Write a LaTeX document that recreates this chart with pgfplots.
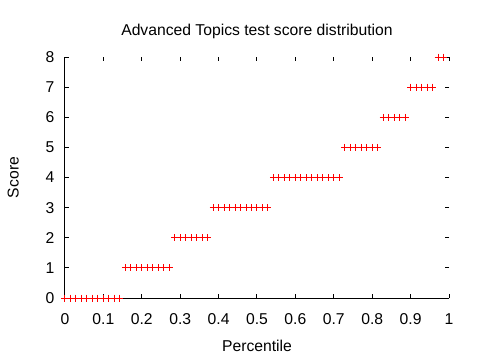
\documentclass[border=0pt]{standalone}
\usepackage{fontspec}
\setmainfont{Liberation Sans}
\usepackage{pgfplots}
\pgfplotsset{compat=1.18}
\begin{document}
\begin{tikzpicture}
\begin{axis}[
  name=ax,
  scale only axis,
  width=384pt, height=241pt,
  xmin=0, xmax=1, ymin=0, ymax=8,
  xtick={0,0.1,...,1.01},
  ytick={0,1,...,8},
  xticklabels={0,0.1,0.2,0.3,0.4,0.5,0.6,0.7,0.8,0.9,1},
  font=\fontsize{15.7}{19}\selectfont,
  /pgf/number format/assume math mode=true,
  tick align=inside,
  major tick length=4pt,
  every tick/.style={black, line width=1pt},
  axis line style={draw=none},
  xticklabel style={yshift=-12pt},
  yticklabel style={xshift=-7pt},
  title={Advanced Topics test score distribution},
  title style={at={(axis description cs:0.5,1.064)}, anchor=base},
  xlabel={Percentile},
  xlabel style={at={(axis description cs:0.5,-0.224)}, anchor=base},
  ylabel={Score},
  ylabel style={at={(axis description cs:-0.121,0.5)}, anchor=base, rotate=0},
  clip=false,
]
\addplot[only marks, mark=+, mark size=3.5pt, color=red, line width=1pt] coordinates {
(0,0) (0.0143,0) (0.0286,0) (0.0429,0) (0.0571,0) (0.0714,0) (0.0857,0) (0.1,0) (0.1143,0) (0.1286,0) (0.1429,0)
(0.1571,1) (0.1714,1) (0.1857,1) (0.2,1) (0.2143,1) (0.2286,1) (0.2429,1) (0.2571,1) (0.2714,1)
(0.2857,2) (0.3,2) (0.3143,2) (0.3286,2) (0.3429,2) (0.3571,2) (0.3714,2)
(0.3857,3) (0.4,3) (0.4143,3) (0.4286,3) (0.4429,3) (0.4571,3) (0.4714,3) (0.4857,3) (0.5,3) (0.5143,3) (0.5286,3)
(0.5429,4) (0.5571,4) (0.5714,4) (0.5857,4) (0.6,4) (0.6143,4) (0.6286,4) (0.6429,4) (0.6571,4) (0.6714,4) (0.6857,4) (0.7,4) (0.7143,4)
(0.7286,5) (0.7429,5) (0.7571,5) (0.7714,5) (0.7857,5) (0.8,5) (0.8143,5)
(0.8286,6) (0.8429,6) (0.8571,6) (0.8714,6) (0.8857,6)
(0.9,7) (0.9143,7) (0.9286,7) (0.9429,7) (0.9571,7)
(0.9714,8) (0.9857,8)
};
\draw[black, line width=1pt] (rel axis cs:0,1) -- (rel axis cs:0,0) -- (rel axis cs:1,0);
\end{axis}
\pgfresetboundingbox
\useasboundingbox (ax.south west) ++(-65pt,-62pt) rectangle ++(480pt,360pt);
\end{tikzpicture}
\end{document}
